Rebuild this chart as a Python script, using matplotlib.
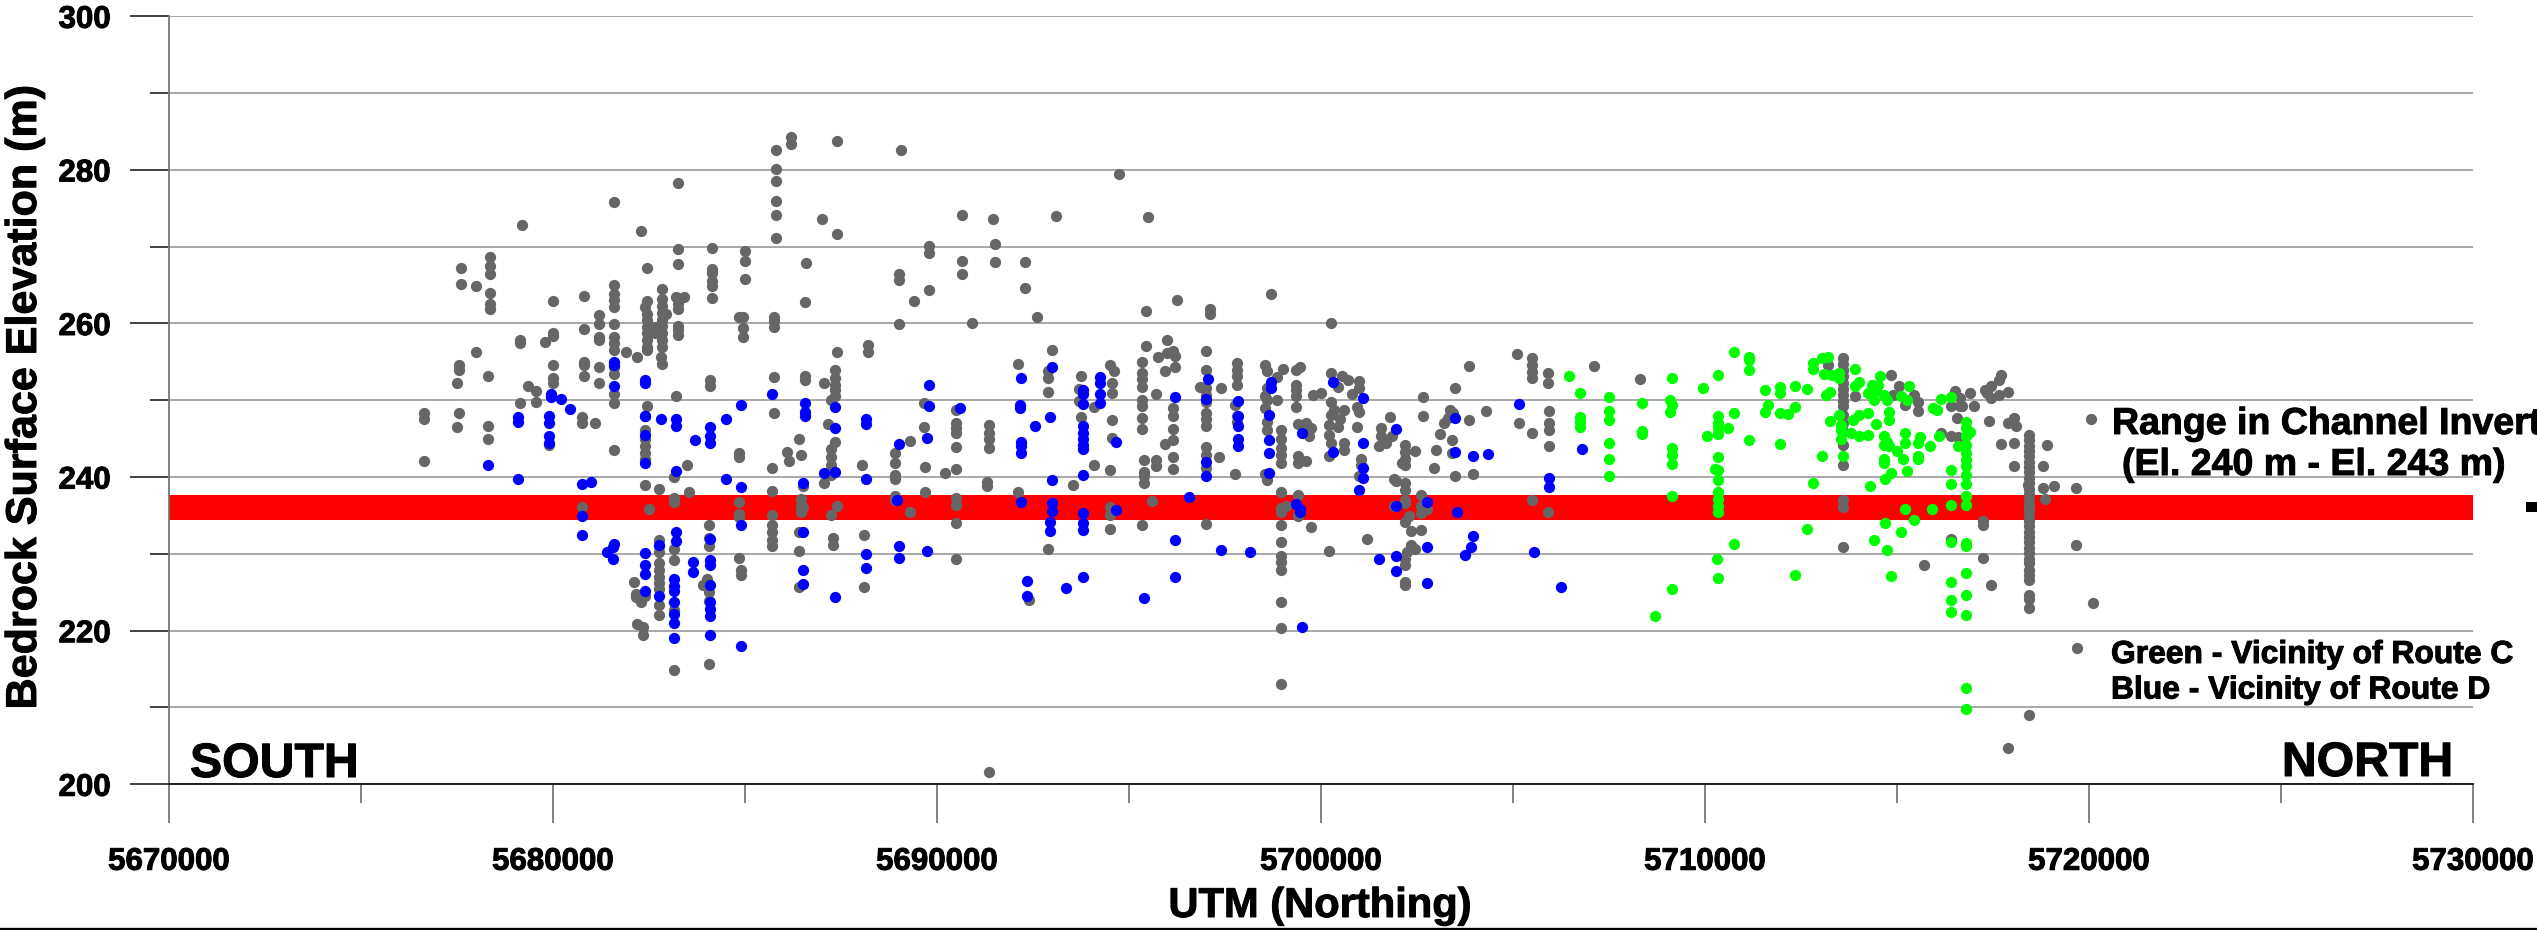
import matplotlib
matplotlib.use('Agg')
import matplotlib.pyplot as plt
import matplotlib.patheffects as pe
from matplotlib.patches import Rectangle
from matplotlib.lines import Line2D

plt.rcParams['font.family'] = ['Liberation Sans', 'DejaVu Sans']
plt.rcParams['font.weight'] = 'bold'

W, H = 2537, 930

# northing in km, elevation in m
gray_pts = [
    (5676.65,248.3),(5676.65,247.6),(5676.65,242.1),
    (5677.6,267.2),(5677.6,265.1),(5678.0,264.9),(5678.0,256.3),
    (5678.35,268.6),(5678.35,267.5),(5678.35,266.4),(5678.35,264.0),(5678.35,262.6),(5678.35,261.9),
    (5677.55,254.6),(5677.55,254.0),(5677.5,252.3),(5678.3,253.1),(5677.55,248.3),(5677.5,246.5),
    (5678.3,246.6),(5678.3,245.0),
    (5679.2,272.8),(5679.15,257.9),(5679.15,257.5),(5679.35,251.8),(5679.55,251.2),(5679.55,249.8),(5679.15,249.7),
    (5679.8,257.6),(5679.9,244.2),
    (5680.0,262.9),(5680.0,258.7),(5680.0,258.4),(5680.0,254.6),(5680.0,252.9),(5680.0,252.2),
    (5680.8,263.6),(5680.8,259.3),(5680.8,255.0),(5680.8,254.6),(5680.8,253.1),(5680.75,247.8),(5680.75,247.1),(5680.75,236.1),
    (5681.2,261.1),(5681.2,259.9),(5681.2,258.3),(5681.2,257.8),(5681.2,254.4),(5681.2,252.3),(5681.1,247.0),
    (5681.6,275.8),(5681.6,265.0),(5681.6,263.9),(5681.6,263.1),(5681.6,262.2),(5681.6,259.9),(5681.6,258.3),(5681.6,257.4),
    (5681.6,256.6),(5681.6,254.4),(5681.6,253.4),(5681.6,250.8),(5681.6,249.7),(5681.6,243.5),
    (5681.9,256.3),(5682.2,255.6),(5682.3,272.1),
    (5682.45,267.2),(5682.45,262.9),(5682.4,262.2),(5682.45,261.3),(5682.45,260.5),(5682.45,259.6),(5682.45,258.7),
    (5682.45,257.9),(5682.45,257.0),(5682.45,256.6),(5682.45,249.3),
    (5682.4,246.1),(5682.4,244.9),(5682.4,244.0),(5682.4,243.1),(5682.4,242.3),(5682.4,239.0),(5682.5,235.9),
    (5682.85,264.5),(5682.85,263.2),(5682.85,262.3),(5682.85,261.4),(5682.85,260.5),(5682.85,259.7),(5682.85,258.8),
    (5682.85,257.9),(5682.85,257.0),(5682.65,259.6),(5682.65,258.7),(5682.95,261.3),(5682.8,255.6),(5682.85,254.7),
    (5682.75,238.4),(5682.75,231.8),(5682.75,231.0),(5682.75,230.2),(5682.75,228.8),(5682.75,227.9),(5682.75,227.0),
    (5682.75,226.2),(5682.75,225.4),(5682.75,223.4),(5682.75,222.1),
    (5682.1,226.4),(5682.15,224.8),(5682.15,224.4),(5682.3,223.8),(5682.4,224.5),(5682.2,220.9),(5682.35,220.5),(5682.35,219.5),
    (5683.25,278.3),(5683.25,269.7),(5683.25,267.8),(5683.2,263.4),(5683.4,263.4),(5683.25,262.6),(5683.25,261.9),
    (5683.25,259.7),(5683.25,259.2),(5683.25,258.5),(5683.2,250.6),
    (5683.5,241.6),(5683.15,240.0),(5683.55,238.0),(5683.15,237.3),(5683.15,236.8),(5683.15,230.6),(5683.15,229.2),
    (5683.15,222.7),(5683.15,214.9),
    (5684.15,269.8),(5684.15,267.1),(5684.15,266.6),(5684.15,265.5),(5684.15,264.9),(5684.15,263.3),(5684.1,252.6),(5684.1,251.9),
    (5684.05,233.7),(5684.05,232.1),(5684.05,231.0),(5684.0,226.7),(5683.9,225.9),(5684.05,225.1),(5684.05,223.9),(5684.05,215.7),
    (5685.0,269.5),(5685.0,268.2),(5685.0,265.8),(5684.85,260.8),(5684.95,260.9),(5684.95,259.4),(5684.95,258.3),
    (5684.85,243.1),(5684.85,242.6),(5684.85,236.7),(5684.85,235.2),(5684.85,234.8),(5684.85,229.5),(5684.9,227.9),(5684.9,227.2),
    (5685.8,282.6),(5685.8,280.1),(5685.8,278.6),(5685.8,275.9),(5685.8,274.1),(5685.8,271.1),
    (5685.75,260.8),(5685.75,260.3),(5685.75,259.6),(5685.75,253.0),(5685.75,248.4),
    (5685.7,241.2),(5685.7,238.2),(5685.7,235.0),(5685.7,233.8),(5685.7,232.9),(5685.7,231.8),(5685.7,231.0),
    (5686.2,284.3),(5686.2,283.4),(5686.1,243.3),(5686.15,242.1),(5686.4,244.9),(5686.45,242.9),
    (5686.6,267.9),(5686.55,262.8),(5686.55,253.1),(5686.55,252.7),(5686.5,238.9),
    (5686.45,237.1),(5686.45,236.2),(5686.45,235.5),(5686.5,236.1),(5686.4,232.9),(5686.4,230.4),(5686.4,225.7),
    (5687.0,273.6),(5687.05,252.2),(5687.05,239.2),
    (5687.4,283.7),(5687.4,271.7),(5687.4,256.3),(5687.35,253.9),(5687.35,252.9),(5687.35,252.0),(5687.35,251.4),(5687.35,250.5),
    (5687.25,250.0),(5687.15,246.9),(5687.35,244.6),(5687.25,243.7),(5687.25,242.6),(5687.25,241.6),(5687.25,240.3),
    (5687.4,236.3),(5687.25,235.0),(5687.3,232.1),(5687.3,231.2),
    (5688.2,257.2),(5688.2,256.3),(5688.05,241.6),(5688.1,232.4),(5688.1,225.7),
    (5689.05,282.6),(5689.0,259.9),(5689.0,266.4),(5689.0,265.6),(5689.4,262.9),
    (5688.9,243.1),(5688.9,241.8),(5688.9,240.3),(5688.9,239.7),(5688.9,237.6),(5688.9,237.0),
    (5689.3,244.7),(5689.3,235.5),
    (5689.8,270.1),(5689.8,269.2),(5689.8,264.3),(5689.65,249.6),(5689.65,246.5),(5689.7,241.3),(5689.7,238.0),
    (5690.2,240.5),(5690.9,260.0),(5690.65,274.1),(5690.65,268.1),(5690.65,266.5),
    (5690.5,248.8),(5690.5,247.0),(5690.5,246.4),(5690.5,245.8),(5690.5,243.9),(5690.5,241.1),(5690.5,237.3),(5690.5,236.4),
    (5690.5,234.0),(5690.5,229.3),
    (5691.45,273.6),(5691.5,270.4),(5691.5,268.0),(5691.35,246.8),(5691.35,245.7),(5691.35,244.9),(5691.35,243.8),
    (5691.3,239.4),(5691.3,238.8),(5691.35,201.6),
    (5692.3,268.0),(5692.3,264.6),(5692.6,260.9),(5692.1,254.7),(5692.1,238.0),(5692.4,224.0),
    (5693.1,274.0),(5693.0,256.5),(5692.9,253.8),(5692.9,252.9),(5692.9,251.1),(5692.9,230.7),
    (5693.75,253.2),(5693.7,251.5),(5693.7,249.9),(5693.75,247.8),(5694.1,249.1),(5694.1,241.6),(5693.55,239.0),
    (5694.75,279.5),(5694.5,254.6),(5694.6,253.8),(5694.55,252.2),(5694.55,251.0),(5694.55,247.4),(5694.55,245.1),
    (5694.5,240.9),(5694.5,236.1),(5694.5,235.1),(5694.5,233.3),
    (5695.5,273.85),(5695.45,261.6),(5695.45,257.1),(5695.35,255.0),(5695.35,253.5),(5695.35,252.8),(5695.35,251.7),
    (5695.35,250.1),(5695.35,249.3),(5695.35,247.7),(5695.35,246.3),(5695.35,233.8),
    (5695.75,255.6),(5695.95,253.8),(5695.7,250.8),(5695.95,244.3),(5695.7,242.2),(5695.7,241.5),
    (5695.4,242.2),(5695.4,240.7),(5695.4,240.1),(5695.4,239.2),(5695.6,236.9),
    (5696.0,257.9),(5696.15,256.4),(5696.0,256.1),(5696.2,255.8),(5696.2,254.4),(5696.25,263.1),
    (5696.15,249.0),(5696.15,248.0),(5696.15,246.3),(5696.15,244.8),(5696.15,242.6),(5696.15,241.1),
    (5697.1,261.9),(5697.1,261.3),(5697.0,256.4),(5697.0,254.0),(5696.85,251.7),(5697.0,251.6),(5697.0,250.7),(5697.0,249.8),
    (5697.0,248.3),(5697.0,247.5),(5697.0,246.7),(5697.0,243.9),(5697.0,242.9),(5697.0,241.2),(5697.0,233.9),(5697.35,242.6),(5697.4,251.6),
    (5697.8,254.8),(5697.8,254.0),(5697.8,253.1),(5697.8,252.0),(5697.75,249.4),(5697.8,247.9),(5697.8,247.2),(5697.75,240.4),
    (5698.7,263.9),(5698.55,254.6),(5698.6,253.8),(5698.85,253.0),(5699.0,254.1),(5698.6,251.6),(5698.55,250.5),(5698.6,250.1),
    (5698.55,249.0),(5698.85,250.1),(5698.6,247.2),(5698.6,246.1),(5698.55,240.4),(5698.6,239.6),
    (5698.95,246.1),(5698.95,244.9),(5698.95,243.8),(5698.95,242.9),(5698.95,241.8),(5698.95,238.0),(5698.95,236.0),(5699.1,236.3),
    (5698.95,235.5),(5698.95,233.7),(5698.95,231.6),(5698.95,229.7),(5698.95,229.0),(5698.95,227.9),(5698.95,223.7),(5698.95,220.3),(5698.95,213.1),
    (5699.45,254.4),(5699.35,253.9),(5699.35,252.0),(5699.35,251.4),(5699.35,250.5),(5699.35,249.1),
    (5699.4,246.9),(5699.6,247.0),(5699.75,246.4),(5699.7,245.4),(5699.4,242.7),(5699.4,241.9),(5699.6,242.1),
    (5699.4,237.7),(5699.4,234.9),(5699.75,233.5),
    (5699.8,250.7),(5700.0,250.9),(5700.25,260.0),(5700.25,253.6),(5700.25,249.8),(5700.25,248.1),(5700.35,248.8),
    (5700.55,253.2),(5700.7,252.7),(5700.45,251.7),(5701.0,252.5),(5701.0,251.6),(5700.8,250.8),(5700.6,248.8),
    (5700.95,249.1),(5701.0,248.5),(5700.5,247.5),(5700.2,246.8),(5700.45,246.5),(5700.2,245.5),(5700.25,244.4),
    (5700.95,246.5),(5700.6,244.4),(5700.6,243.5),(5700.2,242.8),(5701.05,242.3),(5701.05,241.6),(5701.0,240.1),
    (5700.2,230.4),(5701.2,231.9),
    (5701.55,246.4),(5701.55,245.3),(5701.5,244.0),(5701.8,247.8),(5701.7,244.4),(5701.85,245.3),
    (5702.2,244.2),(5702.2,243.3),(5702.2,242.4),(5702.2,241.6),(5702.1,241.8),(5702.45,243.4),
    (5701.9,239.8),(5701.95,239.5),(5702.2,239.2),(5702.2,238.3),(5702.2,237.0),(5702.2,236.6),(5702.6,237.7),
    (5702.6,235.3),(5702.6,236.2),(5702.75,235.9),(5701.9,236.2),(5702.3,234.9),(5702.2,234.2),(5702.35,233.0),(5702.6,233.1),
    (5702.35,231.2),(5702.45,230.7),(5702.25,230.2),(5702.2,229.4),(5702.2,228.6),(5702.2,226.4),(5702.2,226.0),
    (5702.65,250.4),(5702.65,248.0),(5703.5,251.6),(5703.85,254.5),(5703.35,248.8),(5703.45,248.3),(5703.3,247.7),(5703.2,247.1),
    (5703.85,247.4),(5704.3,248.6),(5703.1,245.6),(5703.4,244.8),(5703.0,243.5),(5703.4,243.1),(5702.95,241.2),(5703.5,240.1),(5703.95,240.4),
    (5705.1,256.0),(5705.5,255.5),(5705.5,254.6),(5705.5,253.7),(5705.5,252.9),(5705.9,253.5),(5705.9,252.2),
    (5705.95,248.6),(5705.95,247.0),(5705.95,246.1),(5705.95,244.0),(5705.15,247.0),(5705.5,245.8),(5705.5,237.0),(5705.9,235.5),
    (5707.1,254.5),(5708.3,252.8),
    (5713.2,254.6),(5713.6,255.5),(5713.6,254.7),(5713.6,253.9),(5713.6,253.1),(5713.6,252.3),(5713.6,251.5),(5713.6,250.7),
    (5713.6,249.9),(5713.6,249.3),(5713.9,250.5),(5713.6,248.1),(5713.6,247.0),(5713.6,246.0),(5713.6,244.2),(5713.6,241.6),
    (5713.6,237.0),(5713.6,236.1),(5713.6,230.9),
    (5714.85,253.3),(5715.05,251.9),(5714.9,250.7),(5715.2,249.4),(5715.45,250.7),(5715.55,249.8),(5715.55,248.6),
    (5716.5,251.2),(5716.65,250.3),(5716.4,249.2),(5716.65,249.2),(5716.7,249.3),(5716.9,251.0),(5717.0,249.3),(5716.55,247.7),
    (5716.15,245.7),(5716.4,245.3),(5716.6,245.2),
    (5717.3,251.3),(5717.45,251.8),(5717.7,253.3),(5717.65,252.6),(5717.35,250.9),(5717.65,250.7),(5717.45,250.3),(5717.9,251.1),
    (5717.4,247.3),(5718.05,247.7),(5717.9,247.1),(5718.1,246.7),(5717.7,244.3),(5718.05,244.5),(5718.05,241.4),
    (5718.9,244.2),(5718.8,241.5),(5718.8,238.6),(5719.1,238.8),(5719.65,238.6),(5718.85,237.1),(5720.05,247.5),
    (5717.25,234.3),(5717.25,233.7),(5716.4,232.0),(5719.65,231.2),(5717.25,229.5),(5715.7,228.5),(5717.45,225.9),(5720.1,223.6),
    (5718.4,239.0),(5719.7,217.8),(5718.45,209.0),(5717.9,204.7),
    (5718.45,245.5),(5718.45,244.8),(5718.45,244.1),(5718.45,243.4),(5718.45,242.7),(5718.45,242.0),(5718.45,241.3),(5718.45,240.6),
    (5718.45,239.9),(5718.45,239.2),(5718.45,238.5),(5718.45,237.8),(5718.45,237.1),(5718.45,236.4),(5718.45,235.7),(5718.45,235.0),
    (5718.45,234.3),(5718.45,233.6),(5718.45,232.9),(5718.45,232.2),(5718.45,231.5),(5718.45,230.8),(5718.45,230.1),(5718.45,229.4),
    (5718.45,228.8),(5718.45,227.9),(5718.45,227.3),(5718.45,226.6),(5718.45,224.7),(5718.45,224.1),(5718.45,223.0),
]

blue_pts = [
    (5678.3,241.6),(5679.1,247.8),(5679.1,247.2),(5679.1,239.7),(5679.95,250.8),(5679.95,250.4),(5680.2,250.2),(5680.45,248.9),
    (5679.9,248.0),(5679.9,247.1),(5679.9,245.4),(5679.9,244.4),
    (5680.75,239.1),(5681.0,239.3),(5680.75,234.9),(5680.75,232.4),
    (5681.6,255.0),(5681.6,254.6),(5681.6,251.9),(5681.6,231.3),(5681.55,230.9),(5681.4,230.3),(5681.55,229.4),
    (5682.4,252.7),(5682.4,252.3),(5682.4,248.0),(5682.4,247.9),(5682.4,245.5),(5682.4,241.8),(5682.4,230.1),(5682.4,228.6),
    (5682.4,227.4),(5682.4,225.2),(5682.8,247.5),(5682.75,231.2),(5682.75,224.5),
    (5683.2,247.6),(5683.2,246.7),(5683.2,240.8),(5683.2,232.9),(5683.2,231.7),
    (5683.15,226.7),(5683.15,225.8),(5683.15,225.2),(5683.15,223.7),(5683.15,222.2),(5683.15,221.0),(5683.15,219.1),
    (5683.7,244.8),(5683.65,228.9),(5683.65,227.6),
    (5684.1,246.5),(5684.1,245.3),(5684.1,244.4),(5684.1,232.0),(5684.1,229.2),(5684.1,228.6),(5684.1,225.9),(5684.1,223.8),
    (5684.1,222.8),(5684.1,221.9),(5684.1,219.5),(5684.5,247.6),(5684.5,239.7),
    (5684.9,249.4),(5684.9,238.7),(5684.9,233.8),(5684.9,218.0),(5685.7,250.8),
    (5686.55,249.6),(5686.55,248.5),(5686.55,247.9),(5686.5,239.2),(5686.5,232.9),(5686.5,227.9),(5686.5,226.1),
    (5687.35,249.1),(5687.35,246.4),(5687.05,240.5),(5687.35,240.6),(5687.35,224.4),
    (5688.15,247.6),(5688.15,246.9),(5688.15,239.7),(5688.15,230.0),(5688.15,228.2),
    (5689.0,244.3),(5688.95,237.0),(5689.0,231.0),(5689.0,229.5),
    (5689.8,252.0),(5689.8,249.2),(5689.75,245.1),(5689.75,230.4),
    (5690.6,249.0),(5692.2,252.9),(5692.15,249.4),(5692.15,249.0),(5692.55,246.6),(5692.95,247.8),(5693.0,254.4),
    (5692.2,244.6),(5692.2,244.0),(5692.2,243.1),(5693.0,239.6),(5692.2,236.7),(5693.0,236.6),(5693.0,235.6),
    (5692.95,234.2),(5692.95,233.0),(5692.35,226.5),(5692.35,224.5),(5693.35,225.5),(5693.8,227.0),
    (5693.8,251.4),(5693.8,250.8),(5693.8,249.5),(5694.25,253.0),(5694.25,252.2),(5694.25,250.8),(5694.25,249.7),
    (5693.8,246.7),(5693.8,245.8),(5693.8,244.9),(5693.8,244.2),(5693.8,243.6),(5693.8,240.3),(5693.8,235.3),(5693.8,234.0),(5693.8,233.1),
    (5694.65,244.6),(5694.65,235.7),(5695.4,224.3),(5696.2,250.4),(5696.55,237.4),(5696.2,231.8),(5696.2,227.0),
    (5697.4,230.5),(5698.15,230.2),(5697.05,252.8),(5697.0,250.2),(5697.0,242.0),(5697.0,240.2),
    (5697.85,249.9),(5697.85,247.9),(5697.85,246.6),(5697.85,244.9),(5697.85,244.1),
    (5698.7,252.4),(5698.7,251.6),(5698.65,248.1),(5698.65,244.8),(5698.65,243.2),(5698.65,240.5),
    (5699.35,236.5),(5699.45,235.8),(5699.45,235.4),(5699.5,245.7),(5699.5,220.5),
    (5700.3,252.4),(5700.3,243.3),(5701.1,250.3),(5701.1,244.5),(5701.1,241.2),(5701.1,239.9),(5701.0,238.3),(5701.5,229.4),
    (5701.95,246.3),(5701.95,236.3),(5701.95,229.7),(5701.95,227.8),
    (5702.75,236.8),(5702.75,230.9),(5702.75,226.2),
    (5703.5,247.7),(5703.5,243.3),(5703.95,242.8),(5704.35,243.0),(5703.55,235.4),(5703.95,232.3),(5703.9,230.9),(5703.75,229.9),
    (5705.15,249.5),(5706.8,243.6),(5705.95,239.9),(5705.95,238.7),(5705.55,230.3),(5706.25,225.7),
]

green_pts = [
    (5706.45,253.2),(5706.75,250.9),(5706.75,247.8),(5706.75,247.2),(5706.75,246.5),
    (5707.5,250.4),(5707.5,248.6),(5707.5,247.4),(5707.5,244.4),(5707.5,242.4),(5707.5,240.2),
    (5708.35,249.6),(5708.35,246.0),(5708.35,245.6),(5708.7,221.9),
    (5709.15,252.9),(5709.1,250.0),(5709.15,249.4),(5709.1,248.5),(5709.15,243.8),(5709.15,242.9),(5709.15,241.7),
    (5709.15,237.6),(5709.15,225.4),
    (5709.95,251.6),(5710.35,253.3),(5710.75,256.3),(5711.15,255.7),(5711.15,255.2),(5711.15,253.9),
    (5711.55,251.3),(5711.95,251.7),(5711.95,250.9),(5712.35,251.9),(5712.65,251.5),(5711.65,249.4),(5711.55,248.5),
    (5711.95,248.3),(5712.15,248.2),(5712.35,249.1),(5710.75,248.4),
    (5710.35,248.0),(5710.35,247.0),(5710.35,246.4),(5710.35,245.6),(5710.6,246.4),(5710.05,245.4),(5711.15,244.8),(5711.95,244.3),
    (5710.35,242.6),(5710.25,241.1),(5710.35,240.9),(5710.35,239.6),(5710.35,238.0),(5710.35,237.2),(5710.35,236.2),(5710.35,235.5),
    (5712.8,239.2),(5713.05,242.8),(5710.75,231.3),(5710.3,229.3),(5710.35,226.8),(5712.35,227.2),(5712.65,233.3),
    (5712.8,254.8),(5712.8,254.1),(5713.05,255.5),(5713.2,255.6),(5713.1,253.4),(5713.3,253.3),(5713.5,253.5),(5713.5,252.9),
    (5713.9,254.1),(5713.25,251.1),(5713.15,250.7),(5714.0,252.4),(5713.9,251.9),(5714.35,252.0),(5714.55,253.1),(5714.5,252.0),
    (5714.45,251.4),(5714.25,250.9),(5714.4,250.0),(5714.65,250.7),(5714.75,250.0),(5715.1,250.6),(5715.25,250.1),(5715.3,251.8),
    (5714.8,248.5),(5714.8,247.4),(5713.5,248.1),(5713.85,247.4),(5714.0,248.1),(5714.25,248.3),(5713.25,247.3),
    (5713.55,246.8),(5713.55,246.1),(5713.55,245.0),(5713.8,245.8),(5714.0,245.3),(5714.25,245.5),(5714.45,246.9),
    (5714.65,245.3),(5714.75,244.6),(5714.65,244.2),(5714.8,244.0),(5715.0,243.4),(5715.2,245.8),(5715.2,244.5),
    (5715.6,245.2),(5715.55,244.4),(5715.85,244.1),(5716.1,245.3),(5714.65,242.4),(5714.65,241.8),(5715.15,242.3),
    (5715.55,242.8),(5715.55,242.3),(5715.25,240.8),(5714.85,240.5),(5714.7,239.8),(5714.3,238.9),(5713.6,242.7),
    (5715.2,235.9),(5715.9,235.8),(5715.45,234.4),(5714.7,234.0),(5715.1,232.9),(5714.4,231.8),(5714.75,230.5),(5714.85,227.1),
    (5715.95,249.0),(5716.15,250.2),(5716.05,248.7),(5716.4,250.4),(5716.4,240.9),(5716.4,239.1),(5716.4,236.4),
    (5716.8,247.2),(5716.8,246.4),(5716.9,245.9),(5716.8,245.3),(5716.8,244.2),(5716.6,244.1),(5716.8,243.1),(5716.8,242.2),
    (5716.8,241.4),(5716.8,240.3),(5716.8,239.1),(5716.8,237.6),(5716.8,236.4),
    (5716.4,231.5),(5716.8,231.4),(5716.8,231.0),(5716.8,227.5),(5716.4,226.4),(5716.8,224.7),(5716.4,224.0),(5716.4,222.4),
    (5716.8,222.0),(5716.8,212.6),(5716.8,209.8),
]

x_major = [5670000, 5680000, 5690000, 5700000, 5710000, 5720000, 5730000]
x_minor = [5675000, 5685000, 5695000, 5705000, 5715000, 5725000]
y_major = [200, 220, 240, 260, 280, 300]
y_minor = [210, 230, 250, 270, 290]
invert_low, invert_high = 234.4, 237.7


def unpack(pts):
    return [p[0] * 1000 for p in pts], [p[1] for p in pts]


def fx(px):
    return px / W


def fy(py):
    return 1 - py / H


fig = plt.figure(figsize=(W / 100, H / 100), dpi=100, facecolor='white')
ax = fig.add_axes([fx(169), fy(784.3), (2473 - 169) / W, (784.3 - 16.3) / H])
ax.set_xlim(5670000, 5730000)
ax.set_ylim(200, 300)

for s in ['top', 'right']:
    ax.spines[s].set_visible(False)
ax.spines['left'].set_color('#777777')
ax.spines['left'].set_linewidth(1.3)
ax.spines['bottom'].set_color('#111111')
ax.spines['bottom'].set_linewidth(1.3)

heavy = [pe.withStroke(linewidth=0.7, foreground='black')]

ax.set_xticks(x_major)
ax.set_xticks(x_minor, minor=True)
ax.set_yticks(y_major)
ax.set_yticks(y_minor, minor=True)
ax.set_xticklabels([str(v) for v in x_major], fontsize=22.5, fontweight='bold', path_effects=heavy)
ax.set_yticklabels([str(v) for v in y_major], fontsize=22.5, fontweight='bold', path_effects=heavy)
ax.tick_params(axis='x', which='major', length=28, width=1.3, color='#777777', pad=17)
ax.tick_params(axis='x', which='minor', length=14, width=1.3, color='#777777')
ax.tick_params(axis='y', which='major', length=28, width=1.3, color='#333333', pad=14)
ax.tick_params(axis='y', which='minor', length=14, width=1.3, color='#333333')

ax.grid(True, which='both', axis='y', color='#a8a8a8', linewidth=1.4, zorder=1)
ax.set_axisbelow(True)

ax.axhspan(invert_low, invert_high, color='#ff0000', lw=0, zorder=2)

gx, gy = unpack(gray_pts)
bx, by = unpack(blue_pts)
nx, ny = unpack(green_pts)
ax.plot(gx, gy, 'o', color='#666666', ms=8.1, mew=0, zorder=3)
ax.plot(bx, by, 'o', color='#0000ff', ms=8.1, mew=0, zorder=4)
ax.plot(nx, ny, 'o', color='#00ff00', ms=8.1, mew=0, zorder=4)

fig.text(fx(25), fy(398), 'Bedrock Surface Elevation (m)', rotation=90, fontsize=31, fontweight='bold',
         ha='center', va='center', path_effects=heavy)
fig.text(fx(1320), fy(917), 'UTM (Northing)', fontsize=30, fontweight='bold', ha='center', va='baseline', path_effects=heavy)
fig.text(fx(190), fy(777), 'SOUTH', fontsize=34.7, fontweight='bold', ha='left', va='baseline', path_effects=heavy)
fig.text(fx(2453), fy(776), 'NORTH', fontsize=34.7, fontweight='bold', ha='right', va='baseline', path_effects=heavy)
fig.text(fx(2112), fy(434), 'Range in Channel Invert', fontsize=27, fontweight='bold', ha='left', va='baseline', path_effects=heavy)
fig.text(fx(2122), fy(475), '(El. 240 m - El. 243 m)', fontsize=27, fontweight='bold', ha='left', va='baseline', path_effects=heavy)
fig.text(fx(2111), fy(663), 'Green - Vicinity of Route C', fontsize=22.9, fontweight='bold', ha='left', va='baseline', path_effects=heavy)
fig.text(fx(2111), fy(698.5), 'Blue - Vicinity of Route D', fontsize=22.9, fontweight='bold', ha='left', va='baseline', path_effects=heavy)

# stray mark at right edge and the black rule along the bottom of the image
fig.add_artist(Rectangle((fx(2526), fy(512)), 11 / W, 10 / H, transform=fig.transFigure, color='black', lw=0))
fig.add_artist(Line2D([0, 1], [fy(928.5), fy(928.5)], transform=fig.transFigure, color='black', lw=2.4))

fig.savefig('out.png', dpi=100)
